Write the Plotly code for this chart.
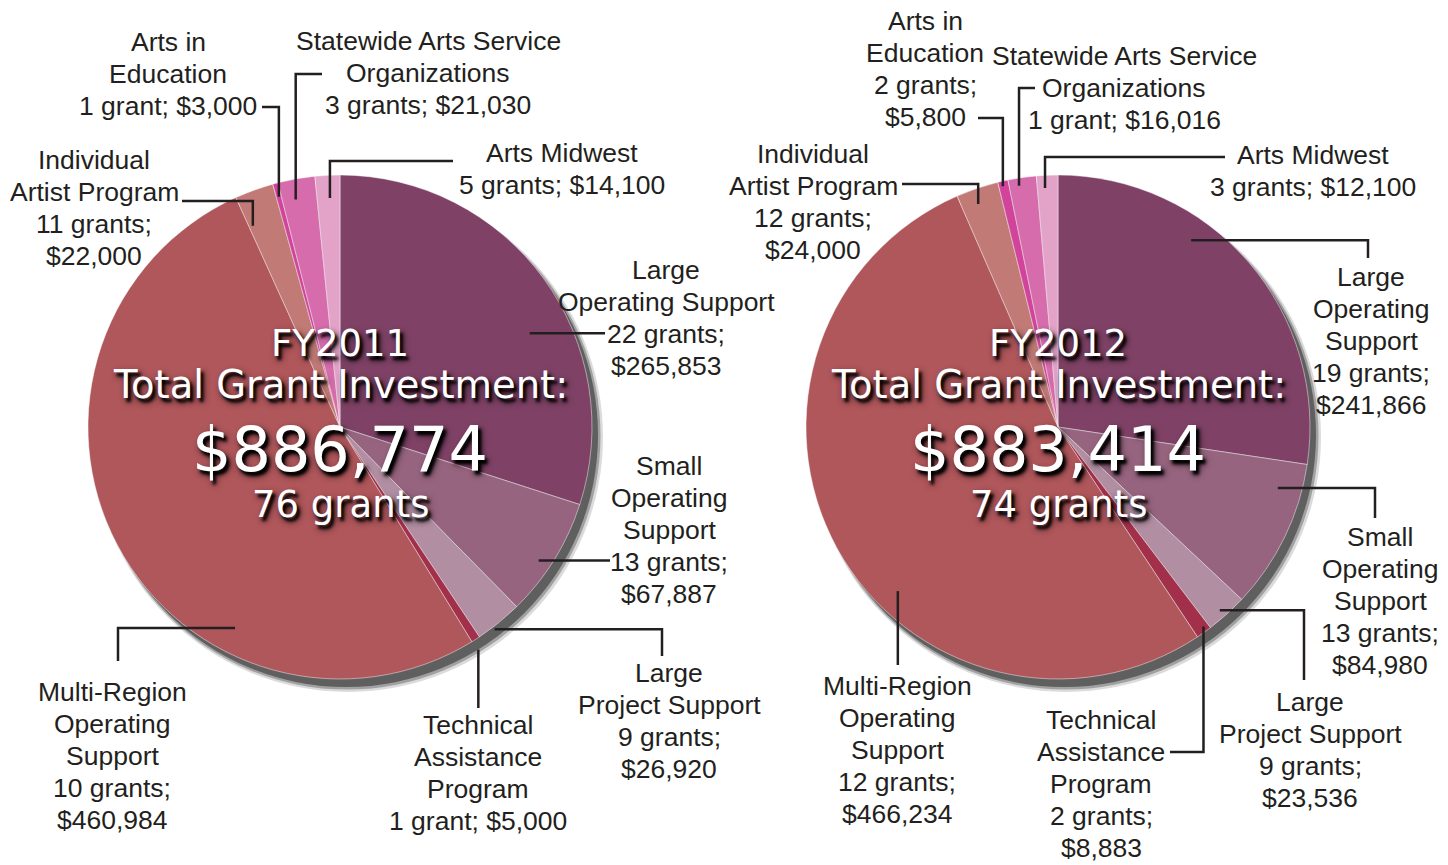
import math
import plotly.graph_objects as go

# ---------------- data ----------------
categories = [
    "Large Operating Support", "Small Operating Support", "Large Project Support",
    "Technical Assistance Program", "Multi-Region Operating Support",
    "Individual Artist Program", "Arts in Education",
    "Statewide Arts Service Organizations", "Arts Midwest",
]
amounts_2011 = [265853, 67887, 26920, 5000, 460984, 22000, 3000, 21030, 14100]
grants_2011 = [22, 13, 9, 1, 10, 11, 1, 3, 5]
amounts_2012 = [241866, 84980, 23536, 8883, 466234, 24000, 5800, 16016, 12100]
grants_2012 = [19, 13, 9, 2, 12, 12, 2, 1, 3]
years = ["FY2011", "FY2012"]
total_amounts = [886774, 883414]
total_grants = [76, 74]

colors = ["#7f4266", "#97647f", "#b28ea2", "#a3304a", "#b0575b",
          "#c27a76", "#d2449c", "#d66cab", "#e3a3c8"]

# label name templates (line breaks as in the reference)
names_2011 = [
    "Large|Operating Support|{g};|{a}",
    "Small|Operating|Support|{g};|{a}",
    "Large|Project Support|{g};|{a}",
    "Technical|Assistance|Program|{g}; {a}",
    "Multi-Region|Operating|Support|{g};|{a}",
    "Individual|Artist Program|{g};|{a}",
    "Arts in|Education|{g}; {a}",
    "Statewide Arts Service|Organizations|{g}; {a}",
    "Arts Midwest|{g}; {a}",
]
names_2012 = [
    "Large|Operating|Support|{g};|{a}",
    "Small|Operating|Support|{g};|{a}",
    "Large|Project Support|{g};|{a}",
    "Technical|Assistance|Program|{g};|{a}",
    "Multi-Region|Operating|Support|{g};|{a}",
    "Individual|Artist Program|{g};|{a}",
    "Arts in|Education|{g};|{a}",
    "Statewide Arts Service|Organizations|{g}; {a}",
    "Arts Midwest|{g}; {a}",
]

# ---------------- layout constants ----------------
W, H = 1448, 865
R = 252
CY = 427
CX = [340, 1058]
LINE_H = 32

# label layout: (text center x, text center y, anchor frac in slice, radius frac, route, xe, ye)
label_layout = [
    [
        (666, 318, 0.59, 0.84, "h", 605, None),
        (669, 530, 0.58, 0.95, "h", 610, None),
        (669, 721, 0.65, 1.01, "hv", 662, 656),
        (478, 773, 0.85, 1.04, "v", None, 708),
        (112, 756, 0.316, 0.90, "hv", 118, 661),
        (94, 208, 0.11, 0.87, "vh", 182, 201),
        (168, 74, 0.5, 0.945, "vh", 262, 107),
        (428, 73, 0.38, 0.92, "vh", 322, 74),
        (562, 169, 0.56, 0.91, "vh", 453, 161),
    ],
    [
        (1371, 341, 0.36, 0.91, "hv", 1368, 258),
        (1380, 601, 0.20, 0.905, "hv", 1375, 518),
        (1310, 750, 0.56, 0.97, "hv", 1304, 680),
        (1101, 784, 0.31, 0.98, "vh", 1170, 752),
        (897, 750, 0.41, 0.91, "v", None, 665),
        (813, 202, 0.40, 0.94, "vh", 902, 184),
        (925, 69, 0.39, 0.98, "vh", 978, 118),
        (1124, 88, 0.35, 0.97, "vh", 1035, 88),
        (1313, 171, 0.37, 0.95, "vh", 1225, 157),
    ],
]


def px(x):
    return x / W


def py(y):
    return 1 - y / H


fig = go.Figure()
shapes = []
annotations = []

datasets = [(amounts_2011, grants_2011, names_2011), (amounts_2012, grants_2012, names_2012)]

for i, (amts, grs, names) in enumerate(datasets):
    cx = CX[i]
    # drop shadow (decorative circles behind the pie)
    for dx, dy, extra, col in [(8, 10, 3, "rgba(90,90,90,0.22)"),
                               (7, 9, 1.5, "rgba(90,90,90,0.45)"),
                               (6, 8, 0, "rgba(95,95,95,1)")]:
        rr = R + extra
        shapes.append(dict(type="circle", xref="paper", yref="paper", layer="below",
                           x0=px(cx + dx - rr), x1=px(cx + dx + rr),
                           y0=py(CY + dy + rr), y1=py(CY + dy - rr),
                           fillcolor=col, line=dict(width=0)))
    fig.add_trace(go.Pie(
        values=amts, labels=categories, sort=False, direction="clockwise", rotation=0,
        marker=dict(colors=colors, line=dict(color="rgba(255,255,255,0.45)", width=1)),
        textinfo="none", hoverinfo="label+value", showlegend=False,
        domain=dict(x=[px(cx - R), px(cx + R)], y=[py(CY + R), py(CY - R)]),
    ))

    total = sum(amts)
    cum = 0
    for k, v in enumerate(amts):
        tx, ty, frac, rf, route, xe, ye = label_layout[i][k]
        theta = math.radians((cum + frac * v) / total * 360)
        cum += v
        ax = cx + rf * R * math.sin(theta)
        ay = CY - rf * R * math.cos(theta)
        if route == "h":
            pts = [(ax, ay), (xe, ay)]
        elif route == "v":
            pts = [(ax, ay), (ax, ye)]
        elif route == "hv":
            pts = [(ax, ay), (xe, ay), (xe, ye)]
        else:
            pts = [(ax, ay), (ax, ye), (xe, ye)]
        path = "M " + " L ".join(f"{px(x):.5f},{py(y):.5f}" for x, y in pts)
        shapes.append(dict(type="path", path=path, xref="paper", yref="paper",
                           line=dict(color="#231f20", width=2.5)))
        g = f"{grs[k]} grant" + ("" if grs[k] == 1 else "s")
        a = f"${v:,}"
        lines = names[k].format(g=g, a=a).split("|")
        n = len(lines)
        for j, ln in enumerate(lines):
            yy = ty + (j - (n - 1) / 2) * LINE_H
            annotations.append(dict(
                x=px(tx), y=py(yy), xref="paper", yref="paper",
                xanchor="center", yanchor="middle",
                text=ln, showarrow=False,
                font=dict(family="Liberation Sans, Arial, sans-serif", size=26.5, color="#231f20"),
            ))

    # centre texts
    shadow = "3px 4px 3px #000, 3px 4px 7px rgba(0,0,0,0.8)"
    for txt, yy, size in [(years[i], 343, 37),
                          ("Total Grant Investment:", 384, 38.5),
                          (f"${total_amounts[i]:,}", 450, 62),
                          (f"{total_grants[i]} grants", 504, 37)]:
        annotations.append(dict(
            x=px(cx), y=py(yy), xref="paper", yref="paper", xanchor="center", yanchor="middle",
            text=txt, showarrow=False,
            font=dict(family="DejaVu Sans, sans-serif", size=size, color="white", shadow=shadow),
        ))

fig.update_layout(
    width=W, height=H, margin=dict(l=0, r=0, t=0, b=0),
    paper_bgcolor="white", plot_bgcolor="white",
    shapes=shapes, annotations=annotations,
)

fig.write_html("out.html", config={"displayModeBar": False},
               post_script="document.body.style.margin='0';document.body.style.padding='0';")
